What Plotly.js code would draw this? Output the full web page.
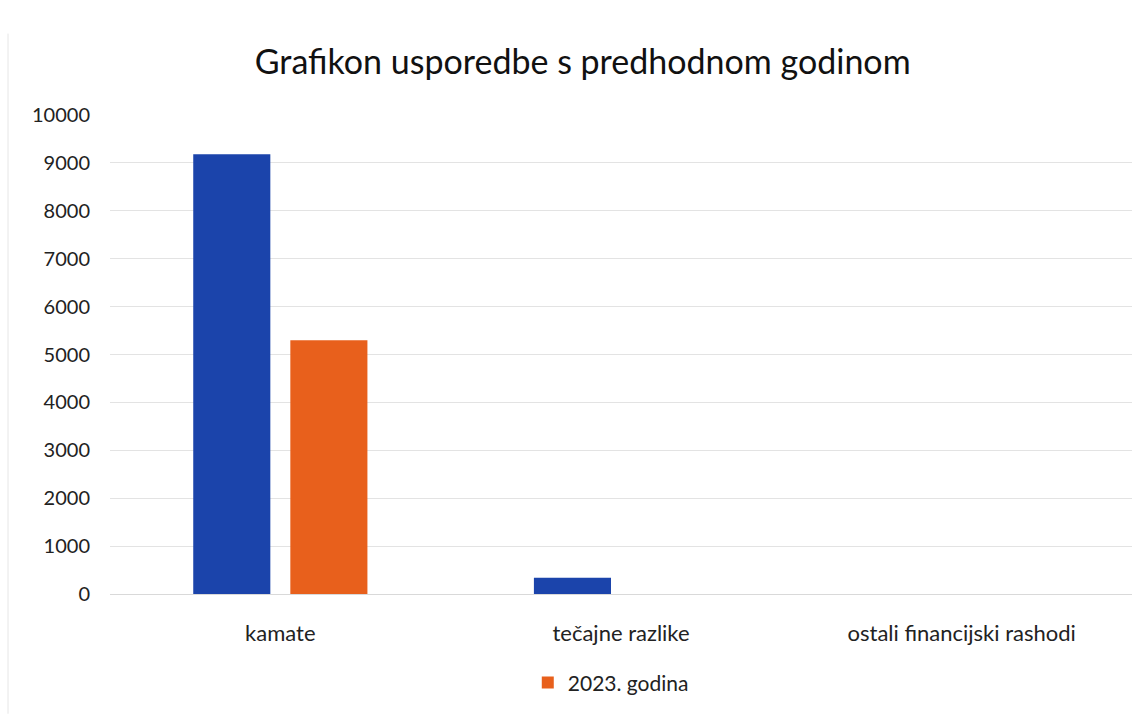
<!DOCTYPE html>
<html>
<head>
<meta charset="utf-8">
<script src="https://cdn.plot.ly/plotly-3.0.1.min.js"></script>
<style>html,body{margin:0;padding:0;background:#fff;}#chart{width:1147px;height:714px;}</style>
</head>
<body>
<div id="chart"></div>
<script>
const categories = ["kamate", "tečajne razlike", "ostali financijski rashodi"];
const prevYearName = "2022. godina";
const prevYearValues = [9180, 340, 0];
const curYearName = "2023. godina";
const curYearValues = [5300, 0, 0];
const yTicks = [0, 1000, 2000, 3000, 4000, 5000, 6000, 7000, 8000, 9000, 10000];

const fontFam = "Lato, 'Open Sans', sans-serif";
const traces = [
  {type: "bar", x: categories, y: prevYearValues, name: prevYearName, showlegend: false,
   marker: {color: "#1b44ab"}, hoverinfo: "x+y"},
  {type: "bar", x: categories, y: curYearValues, name: curYearName,
   marker: {color: "#e8601c"}, hoverinfo: "x+y"}
];
const layout = {
  width: 1147, height: 714,
  paper_bgcolor: "#fff", plot_bgcolor: "#fff",
  margin: {l: 110, r: 15, t: 115, b: 119},
  font: {family: fontFam, color: "#222"},
  title: {text: "Grafikon usporedbe s predhodnom godinom", x: 0.508, xanchor: "center", y: 0.913, yanchor: "middle",
          font: {size: 34, color: "#111", family: fontFam}},
  barmode: "group", bargap: 0.43, bargroupgap: 0.206,
  xaxis: {tickfont: {size: 22, color: "#222"}, showgrid: false, showline: true, linecolor: "#d9d9d9", linewidth: 1,
          ticks: "", ticklabelstandoff: 20, fixedrange: true},
  yaxis: {range: [0, 10000], tickvals: yTicks, ticktext: yTicks.map(String), tickfont: {size: 20, color: "#222"},
          showgrid: true, gridcolor: "#e3e3e3", gridwidth: 1, zeroline: false, showline: false,
          ticks: "", ticklabelstandoff: 19, fixedrange: true},
  showlegend: true,
  legend: {orientation: "h", x: 0.49, xanchor: "center", y: -0.183, yanchor: "middle",
           font: {size: 21, color: "#222"}, itemwidth: 30, traceorder: "normal"},
  shapes: [
    {type: "line", xref: "paper", yref: "paper", x0: -0.0998, x1: -0.0998, y0: -0.25, y1: 1.17,
     line: {color: "#e6e6e6", width: 1}}
  ]
};
Plotly.newPlot("chart", traces, layout, {displayModeBar: false, staticPlot: true});
</script>
</body>
</html>
